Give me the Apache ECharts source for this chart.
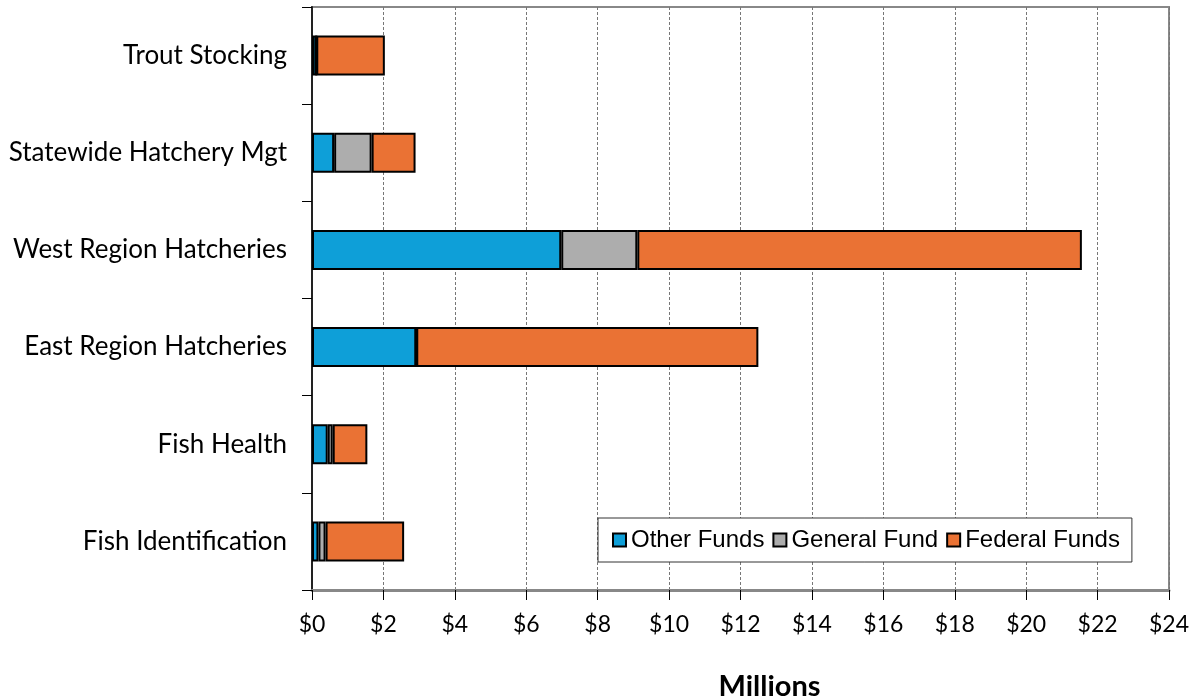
<!DOCTYPE html>
<html>
  <head>
    <meta charset="utf-8" />
    <title>Hatchery Funding</title>
    <script src="https://cdn.jsdelivr.net/npm/echarts@6.0.0/dist/echarts.min.js"></script>
  </head>
  <body style="margin: 0">
    <div id="main" style="width: 1193px; height: 698px"></div>
    <script type="text/javascript">
      var categories = [
        "Trout Stocking",
        "Statewide Hatchery Mgt",
        "West Region Hatcheries",
        "East Region Hatcheries",
        "Fish Health",
        "Fish Identification",
      ];
      // millions of dollars
      var otherFunds = [0.12, 0.62, 6.98, 2.92, 0.44, 0.18];
      var generalFund = [0, 1.05, 2.13, 0, 0.14, 0.2];
      var federalFunds = [1.92, 1.23, 12.45, 9.58, 0.97, 2.2];

      var myChart = echarts.init(document.getElementById("main"));

      var labelFont = "Lato, 'Open Sans', sans-serif";

      function barSeries(name, data, color) {
        return {
          name: name,
          type: "bar",
          stack: "total",
          barWidth: 40,
          data: data,
          itemStyle: { color: color, borderColor: "#000", borderWidth: 2 },
        };
      }

      var option = {
        animation: false,
        backgroundColor: "#fff",
        grid: {
          left: 312,
          right: 24,
          top: 7,
          bottom: 108,
          outerBoundsMode: "none",
          containLabel: false,
          show: true,
          borderColor: "#888",
          borderWidth: 2,
        },
        legend: {
          left: 598,
          top: 518,
          padding: [10, 12, 10, 14],
          itemGap: 8,
          itemWidth: 13,
          itemHeight: 13,
          icon: "rect",
          backgroundColor: "#fff",
          borderColor: "#333",
          borderWidth: 1,
          textStyle: {
            fontFamily: "'Liberation Sans', Arial, sans-serif",
            fontSize: 24,
            color: "#000",
          },
          data: ["Other Funds", "General Fund", "Federal Funds"],
        },
        xAxis: {
          type: "value",
          min: 0,
          max: 24,
          interval: 2,
          name: "Millions",
          nameLocation: "middle",
          nameGap: 82,
          nameTextStyle: {
            fontFamily: labelFont,
            fontWeight: "bold",
            fontSize: 29,
            color: "#000",
            padding: [0, 0, 0, 58],
          },
          axisLine: { show: true, lineStyle: { color: "#888", width: 3 } },
          axisTick: { show: true, length: 10, lineStyle: { color: "#000" } },
          axisLabel: {
            formatter: function (v) {
              return "$" + v;
            },
            fontFamily: labelFont,
            fontSize: 23,
            color: "#000",
            margin: 23,
          },
          splitLine: {
            show: true,
            lineStyle: { color: "#777", type: [3, 2], width: 1 },
          },
        },
        yAxis: {
          type: "category",
          inverse: true,
          data: categories,
          axisLine: { show: true, lineStyle: { color: "#222", width: 2 } },
          axisTick: { show: true, length: 10, lineStyle: { color: "#000" } },
          axisLabel: {
            fontFamily: labelFont,
            fontSize: 26,
            color: "#000",
            margin: 25,
          },
        },
        series: [
          barSeries("Other Funds", otherFunds, "#0e9fd8"),
          barSeries("General Fund", generalFund, "#adadad"),
          barSeries("Federal Funds", federalFunds, "#ea7234"),
        ],
      };
      myChart.setOption(option);
    </script>
  </body>
</html>
